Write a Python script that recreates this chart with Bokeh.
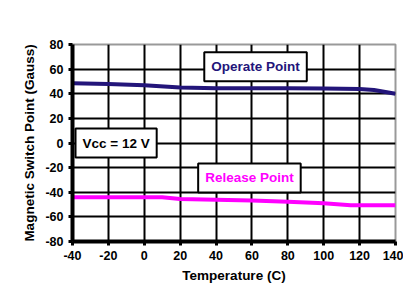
from bokeh.plotting import figure
from bokeh.models import Range1d, FixedTicker, Label
from bokeh.embed import file_html
from bokeh.resources import INLINE

# Data
temps = [-40, -20, 0, 20, 40, 60, 80, 100, 120, 128, 140]
operate = [48.5, 48, 47, 45, 44.5, 44.5, 44.5, 44.2, 43.8, 43, 40]
temps_rel = [-40, -20, 0, 10, 20, 40, 60, 80, 100, 115, 120, 140]
release = [-44, -44, -44, -44, -45.5, -46, -46.7, -47.7, -49, -50.5, -50.5, -50.5]
x_ticks = [-40, -20, 0, 20, 40, 60, 80, 100, 120, 140]
y_ticks = [-80, -60, -40, -20, 0, 20, 40, 60, 80]

FONT = "Liberation Sans"
NAVY = "#23157a"
MAGENTA = "#ff00ff"

p = figure(width=403, height=285, output_backend="svg", toolbar_location=None,
           x_range=Range1d(-40, 140), y_range=Range1d(-80, 80),
           min_border_left=72, min_border_right=8, min_border_top=44, min_border_bottom=41)
p.background_fill_color = "white"
p.border_fill_color = "white"
p.outline_line_color = "#999999"
p.outline_line_width = 2

# grid
p.xgrid.ticker = FixedTicker(ticks=x_ticks[1:])
p.ygrid.ticker = FixedTicker(ticks=y_ticks[1:-1])
p.xgrid.grid_line_color = "black"
p.ygrid.grid_line_color = "black"
p.xgrid.grid_line_width = 2
p.ygrid.grid_line_width = 2

for ax in (p.xaxis[0], p.yaxis[0]):
    ax.axis_line_width = 4
    ax.axis_line_color = "black"
    ax.major_tick_line_width = 3
    ax.major_tick_line_color = "black"
    ax.major_tick_in = 0
    ax.major_tick_out = 4
    ax.minor_tick_line_color = None
    ax.major_label_text_font = FONT
    ax.major_label_text_font_style = "bold"
    ax.major_label_text_font_size = "12.5px"
    ax.major_label_text_color = "black"
    ax.axis_label_text_font = FONT
    ax.axis_label_text_font_style = "bold"
    ax.axis_label_text_font_size = "13.5px"
    ax.axis_label_text_color = "black"

p.xaxis.ticker = FixedTicker(ticks=x_ticks)
p.yaxis.ticker = FixedTicker(ticks=y_ticks)
p.xaxis.major_label_overrides = {t: str(t) for t in x_ticks}
p.yaxis.major_label_overrides = {t: str(t) for t in y_ticks}
p.xaxis.axis_label = "Temperature (C)"
p.yaxis.axis_label = "Magnetic Switch Point (Gauss)"

p.line(temps, operate, line_color=NAVY, line_width=4)
p.line(temps_rel, release, line_color=MAGENTA, line_width=4)

# annotation boxes
boxes = [
    (62.0, 62.0, "Operate Point", NAVY),
    (-15.7, 0.0, "Vcc = 12 V", "black"),
    (58.6, -28.4, "Release Point", MAGENTA),
]
for x, y, txt, col in boxes:
    p.add_layout(Label(x=x, y=y, text=txt, text_align="center",
                       text_baseline="middle", text_font=FONT, text_font_style="bold",
                       text_font_size="13.5px", text_color=col,
                       background_fill_color="white", background_fill_alpha=1,
                       border_line_color="black", border_line_width=2, padding=7))

open("out.html", "w").write(file_html(p, INLINE))
